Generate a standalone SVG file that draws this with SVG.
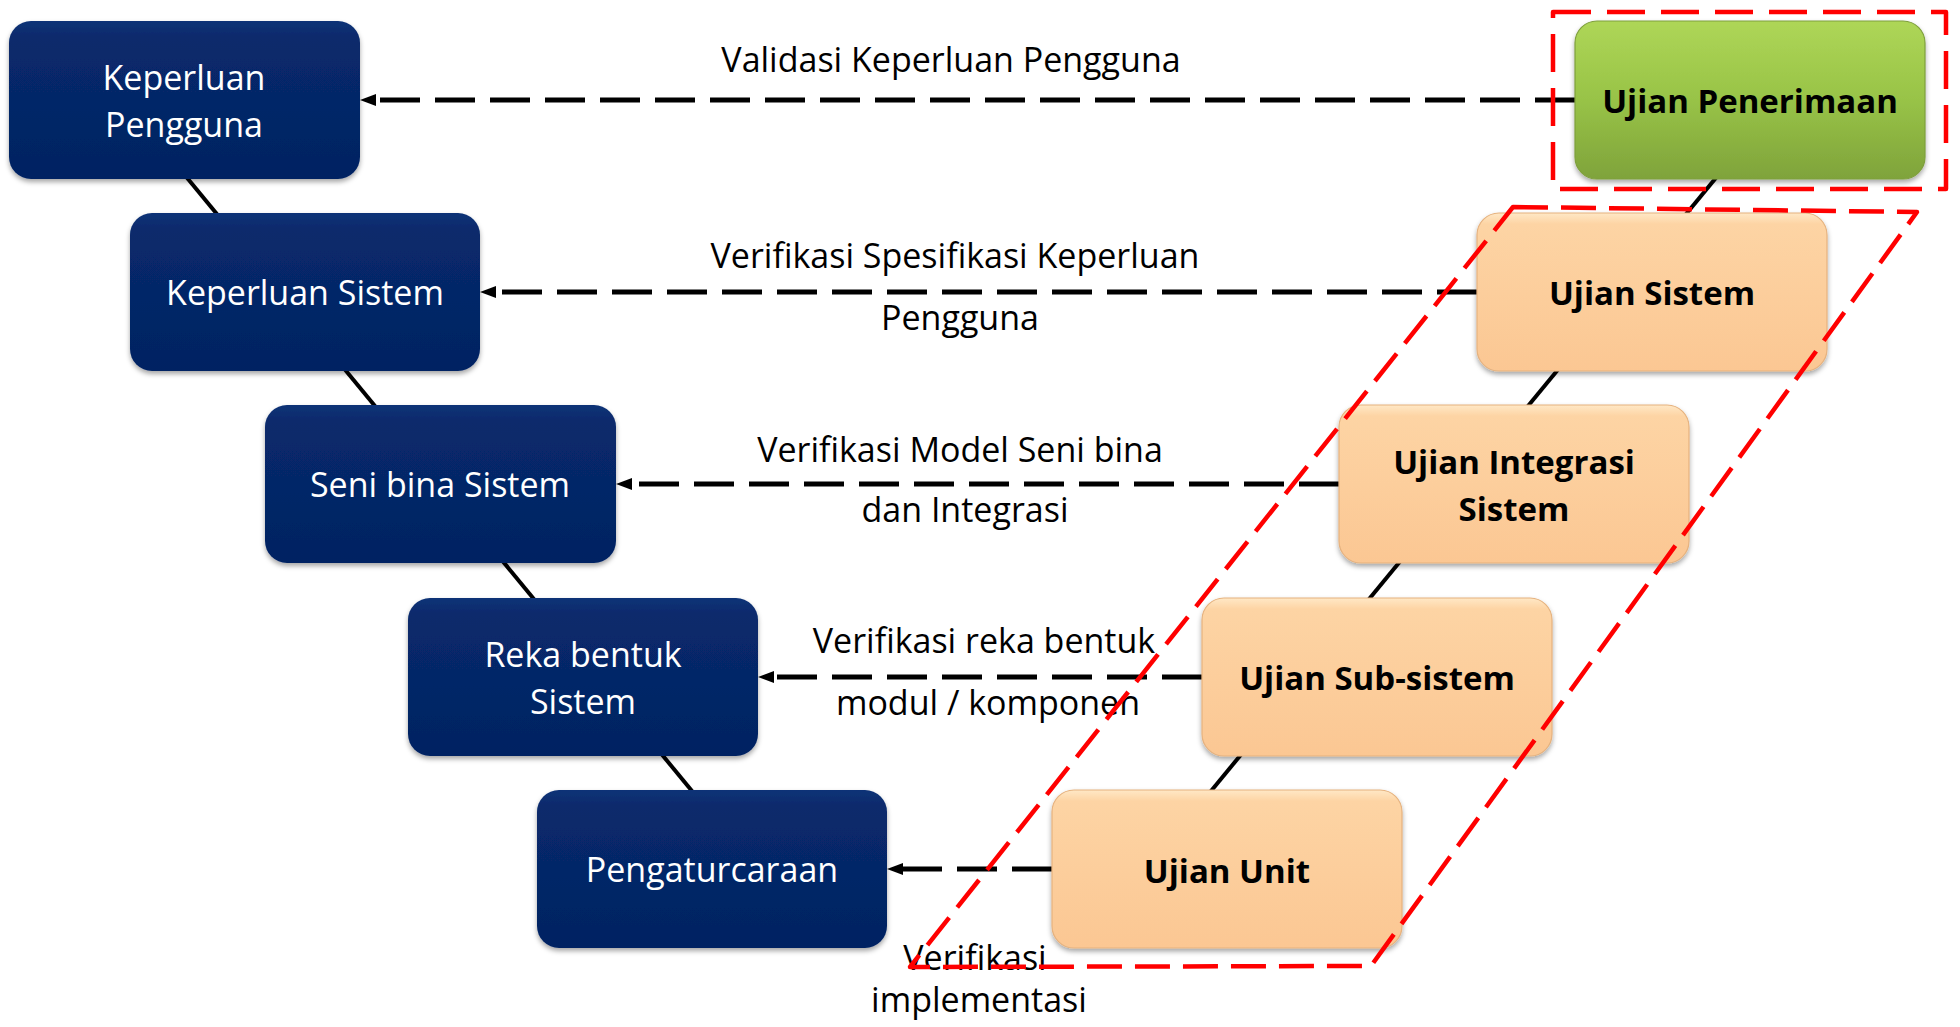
<svg xmlns="http://www.w3.org/2000/svg" width="1960" height="1027" viewBox="0 0 1960 1027">
<defs>
<style>
.lbl{font-family:"Open Sans","Liberation Sans",sans-serif;font-size:34px;fill:#000;text-anchor:middle}
.wt{font-family:"Open Sans","Liberation Sans",sans-serif;font-size:34px;fill:#fff;text-anchor:middle}
.bt{font-family:"Open Sans","Liberation Sans",sans-serif;font-size:33px;font-weight:bold;fill:#000;text-anchor:middle}
.navy{fill:url(#gNavy);filter:url(#sh)}
.peach{fill:url(#gPeach);stroke:#E6B27E;stroke-width:1.2;filter:url(#sh)}
.green{fill:url(#gGreen);stroke:#7E9F3C;stroke-width:1.2;filter:url(#sh)}
.vline{stroke:#000;stroke-width:4;fill:none}
.arr{stroke:#000;stroke-width:5;stroke-dasharray:40 15;fill:none;marker-end:url(#ah)}
.red{stroke:#FF0000;stroke-width:4.5;fill:none;stroke-linejoin:round}
</style>
<linearGradient id="gNavy" x1="0" y1="0" x2="0" y2="1">
<stop offset="0" stop-color="#0F3377"/>
<stop offset="0.1" stop-color="#082A6C"/>
<stop offset="1" stop-color="#032362"/>
</linearGradient>
<linearGradient id="gPeach" x1="0" y1="0" x2="0" y2="1">
<stop offset="0" stop-color="#FFE8C6"/>
<stop offset="0.07" stop-color="#FDD4A4"/>
<stop offset="1" stop-color="#FBC793"/>
</linearGradient>
<linearGradient id="gGreen" x1="0" y1="0" x2="0" y2="1">
<stop offset="0" stop-color="#AED657"/>
<stop offset="0.5" stop-color="#98C347"/>
<stop offset="1" stop-color="#7FA33B"/>
</linearGradient>
<filter id="sh" x="-5%" y="-5%" width="110%" height="115%">
<feDropShadow dx="0" dy="3" stdDeviation="2.5" flood-color="#000" flood-opacity="0.35"/>
</filter>
<marker id="ah" viewBox="0 0 16 12" refX="0" refY="6" markerWidth="16" markerHeight="12" markerUnits="userSpaceOnUse" orient="auto">
<path d="M0,0 L16,6 L0,12 Z" fill="#000"/>
</marker>
</defs>

<g id="connectors">
<line class="vline" x1="123" y1="100" x2="757" y2="870"/>
<line class="vline" x1="1780" y1="100" x2="1146" y2="870"/>
<path class="arr" d="M1575,100 L376,100"/>
<path class="arr" d="M1477,292 L496,292"/>
<path class="arr" d="M1339,484 L632,484"/>
<path class="arr" d="M1202,677 L774,677"/>
<path class="arr" d="M1052,869 L903,869"/>
</g>

<g id="node-keperluan-pengguna">
<rect class="navy" x="9" y="21" width="351" height="158" rx="22"/>
<text class="wt" x="184" y="90">Keperluan</text>
<text class="wt" x="184" y="137">Pengguna</text>
</g>
<g id="node-keperluan-sistem">
<rect class="navy" x="130" y="213" width="350" height="158" rx="22"/>
<text class="wt" x="305" y="305">Keperluan Sistem</text>
</g>
<g id="node-seni-bina">
<rect class="navy" x="265" y="405" width="351" height="158" rx="22"/>
<text class="wt" x="440" y="497">Seni bina Sistem</text>
</g>
<g id="node-reka-bentuk">
<rect class="navy" x="408" y="598" width="350" height="158" rx="22"/>
<text class="wt" x="583" y="667">Reka bentuk</text>
<text class="wt" x="583" y="714">Sistem</text>
</g>
<g id="node-pengaturcaraan">
<rect class="navy" x="537" y="790" width="350" height="158" rx="22"/>
<text class="wt" x="712" y="882">Pengaturcaraan</text>
</g>

<g id="node-ujian-penerimaan">
<rect class="green" x="1575" y="21" width="350" height="158" rx="22"/>
<text class="bt" x="1750" y="113">Ujian Penerimaan</text>
</g>
<g id="node-ujian-sistem">
<rect class="peach" x="1477" y="213" width="350" height="158" rx="22"/>
<text class="bt" x="1652" y="305">Ujian Sistem</text>
</g>
<g id="node-ujian-integrasi">
<rect class="peach" x="1339" y="405" width="350" height="158" rx="22"/>
<text class="bt" x="1514" y="474">Ujian Integrasi</text>
<text class="bt" x="1514" y="521">Sistem</text>
</g>
<g id="node-ujian-subsistem">
<rect class="peach" x="1202" y="598" width="350" height="158" rx="22"/>
<text class="bt" x="1377" y="690">Ujian Sub-sistem</text>
</g>
<g id="node-ujian-unit">
<rect class="peach" x="1052" y="790" width="350" height="158" rx="22"/>
<text class="bt" x="1227" y="883">Ujian Unit</text>
</g>

<g id="labels">
<text class="lbl" x="951" y="72">Validasi Keperluan Pengguna</text>
<text class="lbl" x="955" y="268">Verifikasi Spesifikasi Keperluan</text>
<text class="lbl" x="960" y="330">Pengguna</text>
<text class="lbl" x="960" y="462">Verifikasi Model Seni bina</text>
<text class="lbl" x="965" y="522">dan Integrasi</text>
<text class="lbl" x="984" y="653">Verifikasi reka bentuk</text>
<text class="lbl" x="988" y="715">modul / komponen</text>
<text class="lbl" x="975" y="970">Verifikasi</text>
<text class="lbl" x="979" y="1012">implementasi</text>
</g>

<g id="red-frames">
<rect class="red" x="1553" y="12" width="393" height="177" stroke-dasharray="38 16"/>
<path class="red" d="M1513,207 L1917,212 L1371,966 L910,967 Z" stroke-dasharray="35 13"/>
</g>
</svg>
